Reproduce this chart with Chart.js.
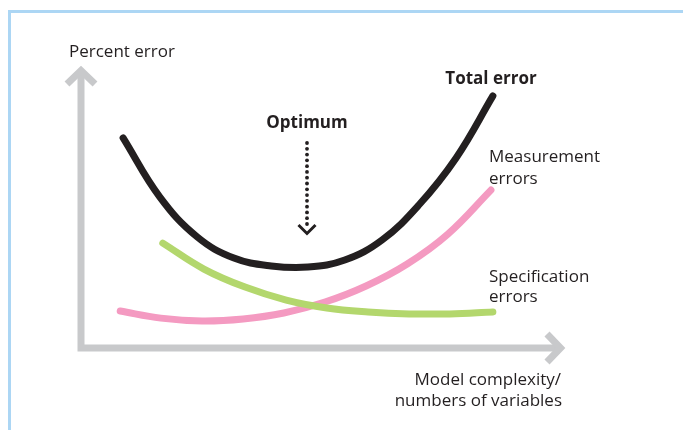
<!DOCTYPE html>
<html>
<head>
<meta charset="utf-8">
<script src="https://cdn.jsdelivr.net/npm/chart.js@4/dist/chart.umd.min.js"></script>
<style>
  html, body { margin: 0; padding: 0; background: #ffffff; }
  #wrap { position: relative; width: 683px; height: 430px; }
</style>
</head>
<body>
<div id="wrap"><canvas id="c" width="683" height="430"></canvas></div>
<script>
// ---- data (x = model complexity, y = percent error, 0..100) ----
const totalX = [8.7, 16.3, 24.0, 31.6, 39.3, 46.9, 54.5, 62.2, 69.8, 77.5, 85.1];
const totalY = [74.5, 53.5, 39.4, 31.9, 29.1, 28.7, 31.2, 38.3, 50.7, 67.4, 89.4];

const measX = [8.1, 16.5, 25.0, 33.5, 41.9, 50.4, 58.9, 67.4, 75.8, 84.7];
const measY = [13.1, 10.6, 9.6, 10.3, 12.4, 16.3, 22.0, 29.8, 40.4, 56.0];

const specX = [16.9, 25.4, 33.9, 42.4, 50.8, 59.3, 67.8, 76.2, 85.1];
const specY = [37.2, 28.0, 21.6, 17.0, 14.2, 12.8, 12.1, 12.1, 12.8];

const seriesNames = ["Total error", "Measurement errors", "Specification errors"];
const axisTitles = ["Percent error", ["Model complexity/", "numbers of variables"]];
const optimumLabel = "Optimum";

const toPoints = (xs, ys) => xs.map((x, i) => ({ x: x, y: ys[i] }));

// ---- colours / styles ----
const C_BLACK = '#231f20', C_PINK = '#f49ac1', C_GREEN = '#b3d76d', C_GRAY = '#c8c9cb', C_BLUE = '#acd6f4';
const FONT = '"Open Sans", "Noto Sans", sans-serif';

const decor = {
  id: 'decor',
  beforeDraw(chart) {
    const ctx = chart.ctx;
    ctx.save();
    ctx.fillStyle = '#ffffff';
    ctx.fillRect(0, 0, chart.width, chart.height);
    // light blue frame (top + left)
    ctx.fillStyle = C_BLUE;
    ctx.fillRect(8, 10, 3, chart.height - 10);
    ctx.fillRect(8, 10, chart.width - 8, 3);
    // axes with arrow heads
    const a = chart.chartArea;
    ctx.strokeStyle = C_GRAY;
    ctx.lineWidth = 7;
    ctx.lineCap = 'butt';
    ctx.lineJoin = 'miter';
    ctx.beginPath();
    ctx.moveTo(a.left, a.bottom + 3.5);
    ctx.lineTo(a.left, a.top + 6);
    ctx.moveTo(a.left - 3.5, a.bottom);
    ctx.lineTo(a.right - 6, a.bottom);
    ctx.stroke();
    ctx.beginPath();
    ctx.moveTo(a.left - 14, a.top + 18);
    ctx.lineTo(a.left, a.top + 4.5);
    ctx.lineTo(a.left + 14, a.top + 18);
    ctx.stroke();
    ctx.beginPath();
    ctx.moveTo(a.right - 18, a.bottom - 14);
    ctx.lineTo(a.right - 4.5, a.bottom);
    ctx.lineTo(a.right - 18, a.bottom + 14);
    ctx.stroke();
    ctx.restore();
  },
  afterDatasetsDraw(chart) {
    const ctx = chart.ctx;
    const xs = chart.scales.x;
    ctx.save();
    ctx.fillStyle = C_BLACK;
    ctx.textBaseline = 'alphabetic';
    // y axis title
    ctx.font = '17px ' + FONT;
    ctx.textAlign = 'left';
    ctx.fillText(axisTitles[0], 69, 56.5);
    // x axis title (right aligned)
    ctx.textAlign = 'right';
    ctx.fillText(axisTitles[1][0], 561, 385);
    ctx.fillText(axisTitles[1][1], 562, 406);
    // series labels
    ctx.textAlign = 'left';
    ctx.fillText('Measurement', 489, 162);
    ctx.fillText('errors', 489, 183.5);
    ctx.fillText('Specification', 489, 282);
    ctx.fillText('errors', 489, 302);
    ctx.font = 'bold 17px ' + FONT;
    ctx.textAlign = 'center';
    ctx.fillText(seriesNames[0], 491, 84);
    // optimum marker at the minimum of total error
    let mi = 0;
    totalY.forEach((v, i) => { if (v < totalY[mi]) mi = i; });
    const ox = Math.round(xs.getPixelForValue(totalX[mi])) - 1;
    ctx.fillText(optimumLabel, ox, 128);
    const yTop = 143, yBot = 224;
    const n = 15;
    for (let i = 0; i < n; i++) {
      const yy = yTop + (yBot - yTop) * i / (n - 1);
      ctx.beginPath();
      ctx.arc(ox, yy, 1.9, 0, Math.PI * 2);
      ctx.fill();
    }
    ctx.strokeStyle = C_BLACK;
    ctx.lineWidth = 3;
    ctx.lineJoin = 'miter';
    ctx.beginPath();
    ctx.moveTo(ox - 8.5, 225);
    ctx.lineTo(ox, 233.5);
    ctx.lineTo(ox + 8.5, 225);
    ctx.stroke();
    ctx.restore();
  }
};

const lineDs = (label, xs, ys, color) => ({
  label: label,
  data: toPoints(xs, ys),
  showLine: true,
  borderColor: color,
  backgroundColor: color,
  borderWidth: 7,
  borderCapStyle: 'round',
  borderJoinStyle: 'round',
  pointRadius: 0,
  pointHoverRadius: 0,
  tension: 0.4,
  cubicInterpolationMode: 'default',
  fill: false
});

new Chart(document.getElementById('c'), {
  type: 'scatter',
  data: {
    datasets: [
      lineDs(seriesNames[2], specX, specY, C_GREEN),
      lineDs(seriesNames[1], measX, measY, C_PINK),
      lineDs(seriesNames[0], totalX, totalY, C_BLACK)
    ]
  },
  options: {
    responsive: false,
    animation: false,
    devicePixelRatio: 1,
    layout: { padding: { left: 81, right: 118, top: 66, bottom: 82 } },
    scales: {
      x: { type: 'linear', min: 0, max: 100, display: false },
      y: { type: 'linear', min: 0, max: 100, display: false }
    },
    plugins: {
      legend: { display: false },
      tooltip: { enabled: false },
      title: { display: false }
    }
  },
  plugins: [decor]
});
</script>
</body>
</html>
